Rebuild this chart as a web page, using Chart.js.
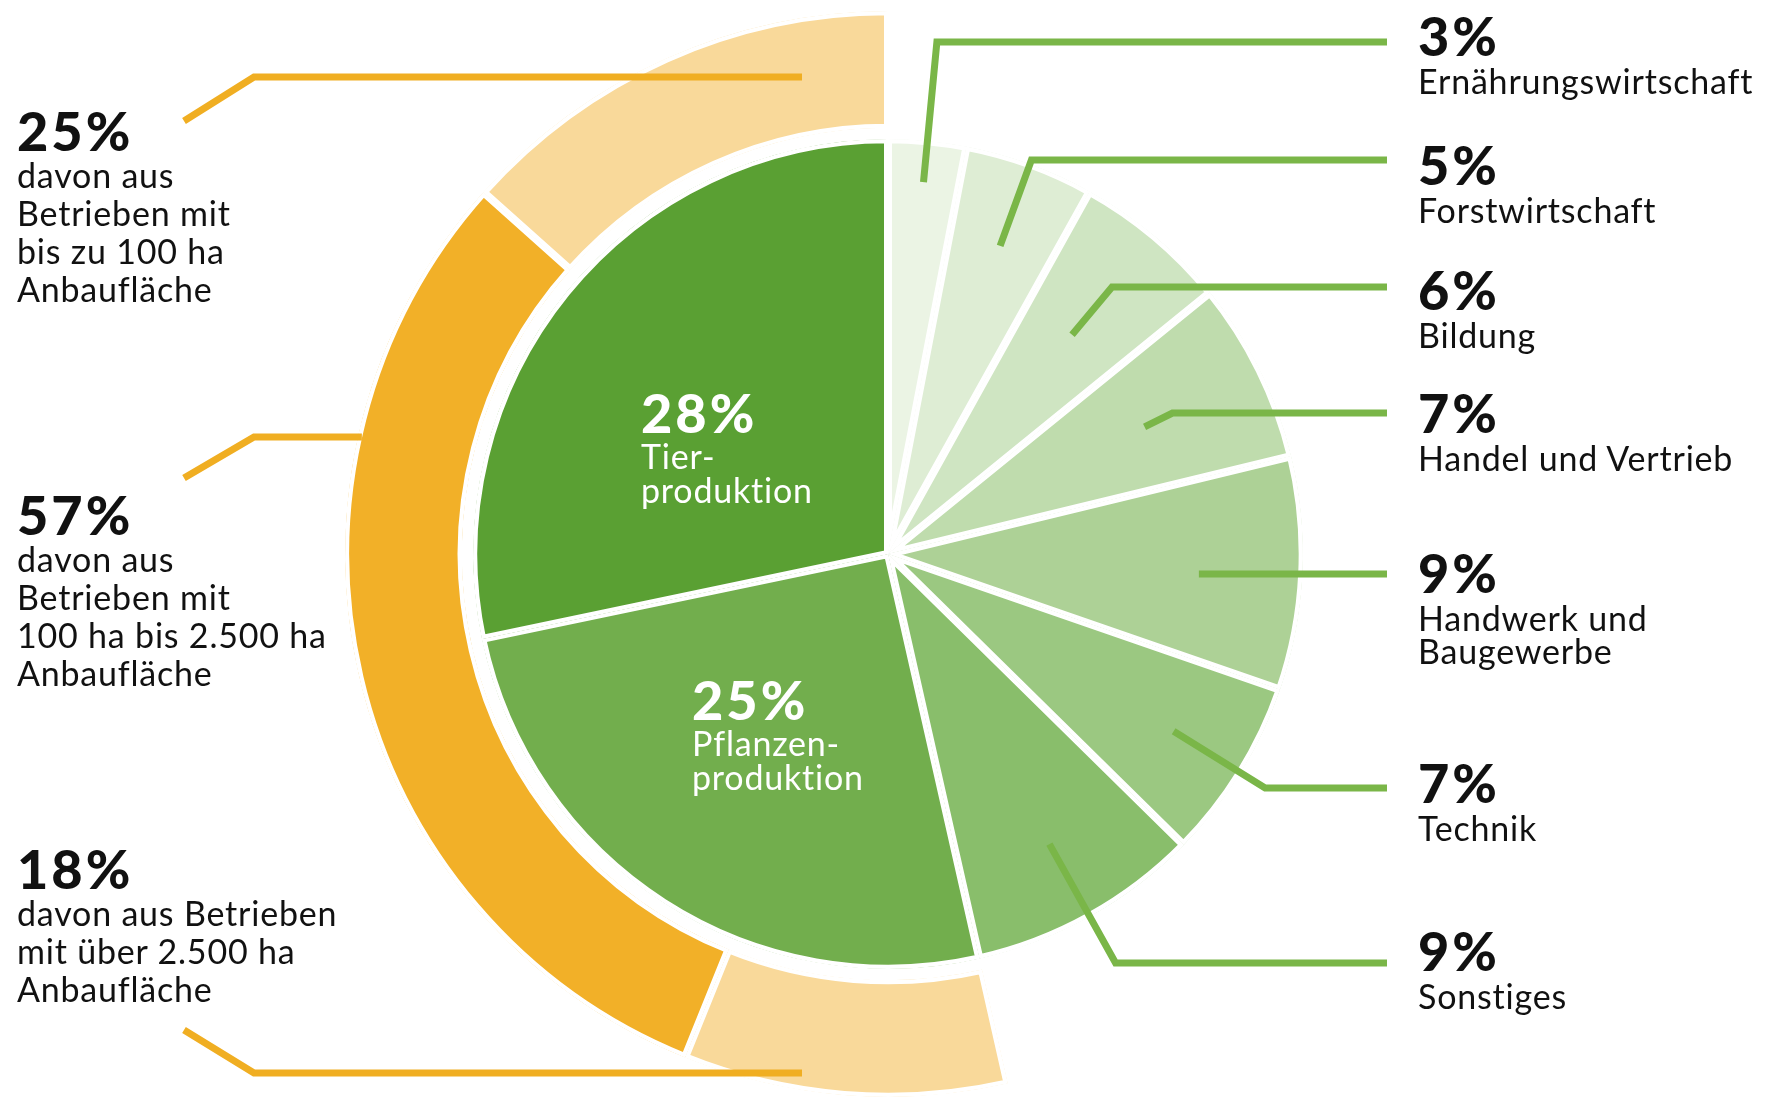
<!DOCTYPE html>
<html lang="de">
<head>
<meta charset="utf-8">
<title>Beschäftigte nach Bereichen</title>
<script src="https://cdn.jsdelivr.net/npm/chart.js@4.4.1/dist/chart.umd.min.js"></script>
<style>
  html, body { margin: 0; padding: 0; background: #fff; overflow: hidden; }
  #wrap { position: relative; width: 1784px; height: 1098px; }
  canvas { position: absolute; left: 0; top: 0; }
  .lbl { position: absolute; font-family: Lato, "Noto Sans", sans-serif; color: #111; white-space: nowrap; }
  .lbl .pct { font-size: 54px; font-weight: 900; letter-spacing: 3px; }
  .lbl .txt { font-size: 34px; font-weight: 400; letter-spacing: 0.8px; }
  .right .pct { line-height: 57px; }
  .right .txt { line-height: 33px; }
  .left .pct { line-height: 50px; }
  .left .txt { line-height: 38px; }
  .inner { color: #fff; }
  .inner .pct { line-height: 52px; }
  .inner .txt { line-height: 34px; }
</style>
</head>
<body>
<div id="wrap">
  <canvas id="chart" width="1784" height="1098"></canvas>
</div>
<script>
// Sectors, clockwise from 12 o'clock
const sectorNames = ["Ernährungswirtschaft", "Forstwirtschaft", "Bildung", "Handel und Vertrieb",
    "Handwerk und Baugewerbe", "Technik", "Sonstiges", "Pflanzenproduktion", "Tierproduktion"];
const sectorLines = [["Ernährungswirtschaft"], ["Forstwirtschaft"], ["Bildung"], ["Handel und Vertrieb"],
    ["Handwerk und", "Baugewerbe"], ["Technik"], ["Sonstiges"], ["Pflanzen-", "produktion"], ["Tier-", "produktion"]];
const sectorValues = [3, 5, 6, 7, 9, 7, 9, 25, 28];
const sectorColors = ["#ebf4e4", "#deedd4", "#cfe5c2", "#bfdcad", "#add196", "#9bc881", "#89be6b", "#72ae4d", "#5aa033"];

// Farm size split of the agricultural part, clockwise (bottom -> top)
const farmLines = [["davon aus Betrieben", "mit über 2.500 ha", "Anbaufläche"],
    ["davon aus", "Betrieben mit", "100 ha bis 2.500 ha", "Anbaufläche"],
    ["davon aus", "Betrieben mit", "bis zu 100 ha", "Anbaufläche"]];
const farmShares = [18, 57, 25];
const farmColors = ["#f9d99a", "#f2b028", "#f9d99a"];

// label / leader layout
const rightLabelX = 1418;
const rightLabelTop = [7, 136, 261, 384, 544, 754, 922];
const leaderY = [42, 160, 287, 413, 574, 788, 963];
const leaderStart = [0.90, 0.79, 0.69, 0.69, 0.75, 0.81, 0.80];
const leaderEndX = 1387;
const leftLabelTop = [844, 490, 106];
const orangeLeaders = [
    { y: 1073, dx: -86, endDy: -43 },
    { y: 437, dx: null, endDy: 41 },
    { y: 77, dx: -86, endDy: 44 }
];
const innerLabelPos = { 7: [692, 674], 8: [641, 387] };

const wrap = document.getElementById("wrap");
function addLabel(cls, x, y, pct, lines) {
    const d = document.createElement("div");
    d.className = "lbl " + cls;
    d.style.left = x + "px";
    d.style.top = y + "px";
    d.innerHTML = `<div class="pct">${pct}%</div>` + lines.map(l => `<div class="txt">${l}</div>`).join("");
    wrap.appendChild(d);
}
for (let i = 0; i < 7; i++) {
    addLabel("right", rightLabelX, rightLabelTop[i], sectorValues[i], sectorLines[i]);
}
for (const i of [7, 8]) {
    addLabel("inner", innerLabelPos[i][0], innerLabelPos[i][1], sectorValues[i], sectorLines[i]);
}
for (let i = 0; i < 3; i++) {
    addLabel("left", 17, leftLabelTop[i], farmShares[i], farmLines[i]);
}

const total = sectorValues.reduce((a, b) => a + b, 0);
const agri = sectorValues[7] + sectorValues[8];
const ringRotation = 360 * (total - agri) / total;
const ringCircumference = 360 * agri / total;

const leaderPlugin = {
    id: "leaders",
    afterDatasetsDraw(chart) {
        const ctx = chart.ctx;
        const pie = chart.getDatasetMeta(2).data;
        const ring = chart.getDatasetMeta(0).data;
        ctx.save();
        ctx.lineWidth = 7;
        ctx.lineCap = "butt";
        ctx.lineJoin = "miter";
        // green leaders to the sector labels
        ctx.strokeStyle = "#7ab648";
        for (let i = 0; i < 7; i++) {
            const p = pie[i].getProps(["x", "y", "startAngle", "endAngle", "outerRadius"], true);
            const mid = (p.startAngle + p.endAngle) / 2;
            const r0 = p.outerRadius * leaderStart[i];
            const x0 = p.x + Math.cos(mid) * r0;
            let y0 = p.y + Math.sin(mid) * r0;
            const ly = leaderY[i];
            let x1 = x0;
            const s = Math.sin(mid);
            if (Math.abs(s) < 0.1) {
                // nearly horizontal slice: straight leader
                y0 = ly;
            } else {
                const t = (ly - p.y) / s;
                if (t > r0) x1 = p.x + Math.cos(mid) * t;
            }
            ctx.beginPath();
            ctx.moveTo(x0, y0);
            ctx.lineTo(x1, ly);
            ctx.lineTo(leaderEndX, ly);
            ctx.stroke();
        }
        // orange leaders to the farm size labels
        ctx.strokeStyle = "#f0ae22";
        const rp = ring[0].getProps(["x", "y", "outerRadius"], true);
        const rv = rp.outerRadius - 4;
        orangeLeaders.forEach(o => {
            const x0 = o.dx === null ? rp.x - Math.sqrt(rv * rv - (rp.y - o.y) * (rp.y - o.y)) : rp.x + o.dx;
            ctx.beginPath();
            ctx.moveTo(x0, o.y);
            ctx.lineTo(254, o.y);
            ctx.lineTo(184, o.y + o.endDy);
            ctx.stroke();
        });
        ctx.restore();
    }
};

new Chart(document.getElementById("chart"), {
    type: "doughnut",
    data: {
        labels: sectorNames,
        datasets: [
            {
                data: farmShares,
                backgroundColor: farmColors,
                borderColor: "#ffffff",
                borderWidth: 4,
                borderAlign: "inner",
                rotation: ringRotation,
                circumference: ringCircumference,
                weight: 117
            },
            {
                data: [1],
                backgroundColor: "rgba(0,0,0,0)",
                borderWidth: 0,
                weight: 11
            },
            {
                data: sectorValues,
                backgroundColor: sectorColors,
                borderColor: "#ffffff",
                borderWidth: 4,
                borderAlign: "inner",
                weight: 415
            }
        ]
    },
    options: {
        responsive: false,
        animation: false,
        events: [],
        cutout: 0,
        layout: { padding: { left: 345, right: 353, top: 11, bottom: 1 } },
        plugins: {
            legend: { display: false },
            tooltip: { enabled: false }
        }
    },
    plugins: [leaderPlugin]
});
</script>
</body>
</html>
